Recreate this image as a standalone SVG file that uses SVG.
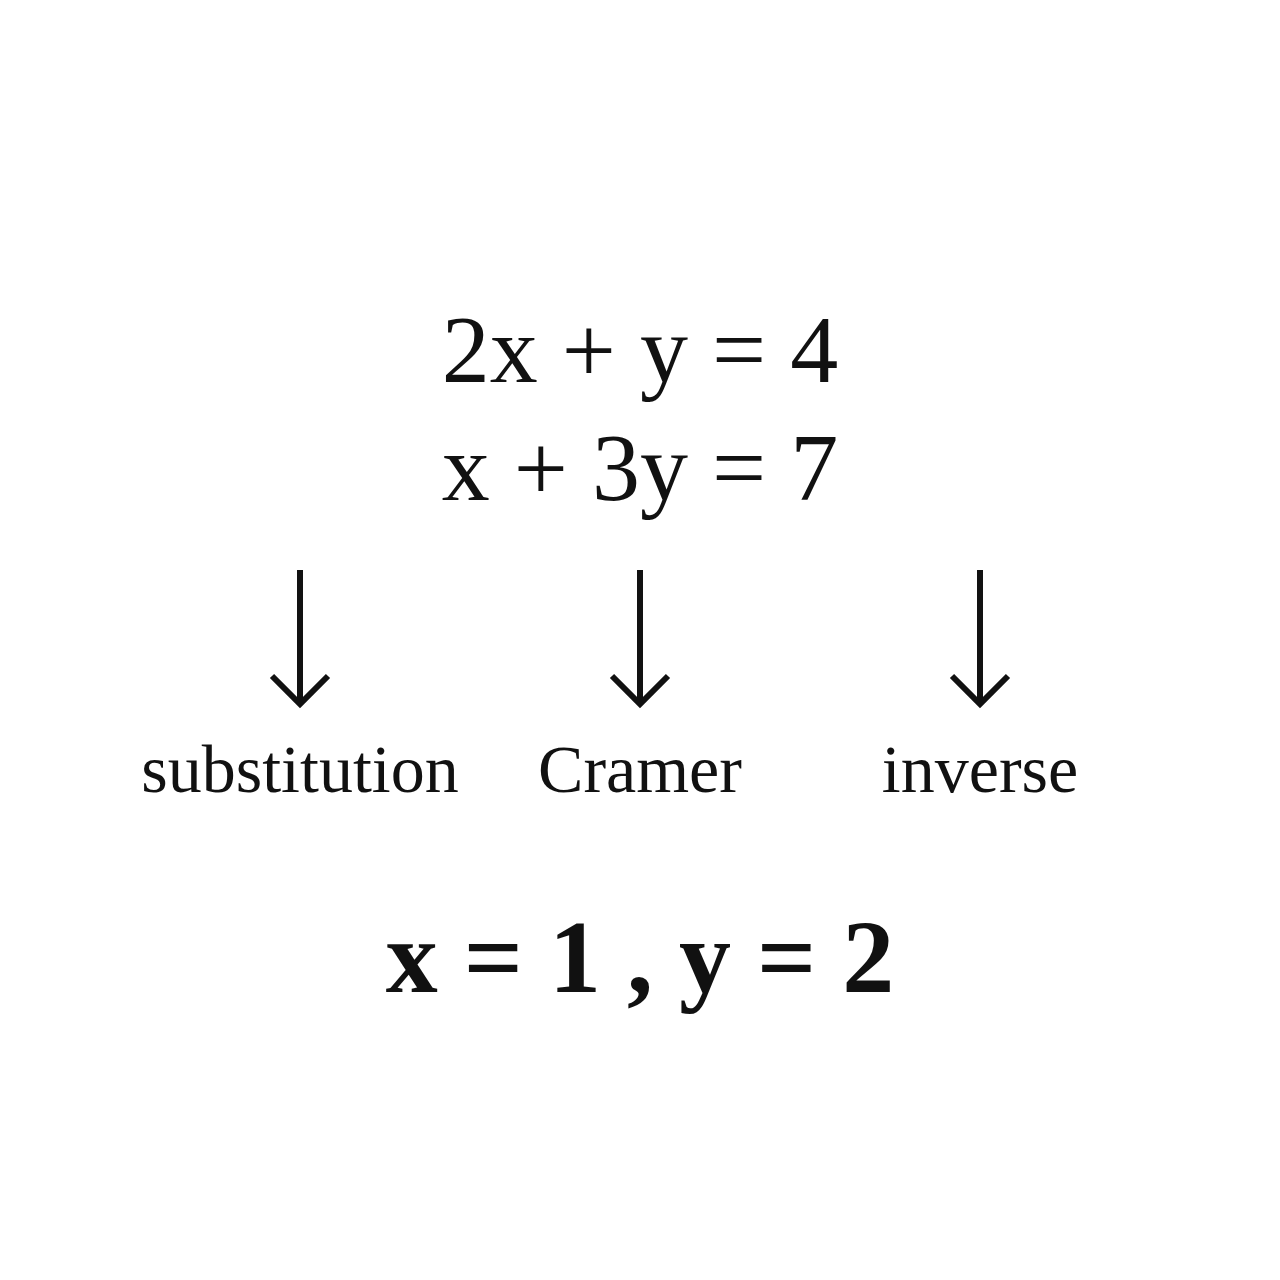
<svg xmlns="http://www.w3.org/2000/svg" width="1280" height="1280" viewBox="0 0 1280 1280">
<style>
text{font-family:"Liberation Serif","DejaVu Serif",serif;fill:#111;text-anchor:middle}
.eq{font-size:96px}
.lbl{font-size:68px}
.res{font-size:104px;font-weight:bold}
.arr{stroke:#111;stroke-width:6;fill:none}
</style>
<rect width="1280" height="1280" fill="#fff"/>
<g id="system">
<text class="eq" x="640" y="382">2x + y = 4</text>
<text class="eq" x="640" y="500">x + 3y = 7</text>
</g>
<g id="connectors">
<path class="arr" d="M300 570V703M272 676L300 704L328 676"/>
<path class="arr" d="M640 570V703M612 676L640 704L668 676"/>
<path class="arr" d="M980 570V703M952 676L980 704L1008 676"/>
</g>
<g id="substitution"><text class="lbl" x="300" y="792">substitution</text></g>
<g id="cramer"><text class="lbl" x="640" y="792">Cramer</text></g>
<g id="inverse"><text class="lbl" x="980" y="792">inverse</text></g>
<g id="result"><text class="res" x="640" y="992">x = 1 , y = 2</text></g>
</svg>
